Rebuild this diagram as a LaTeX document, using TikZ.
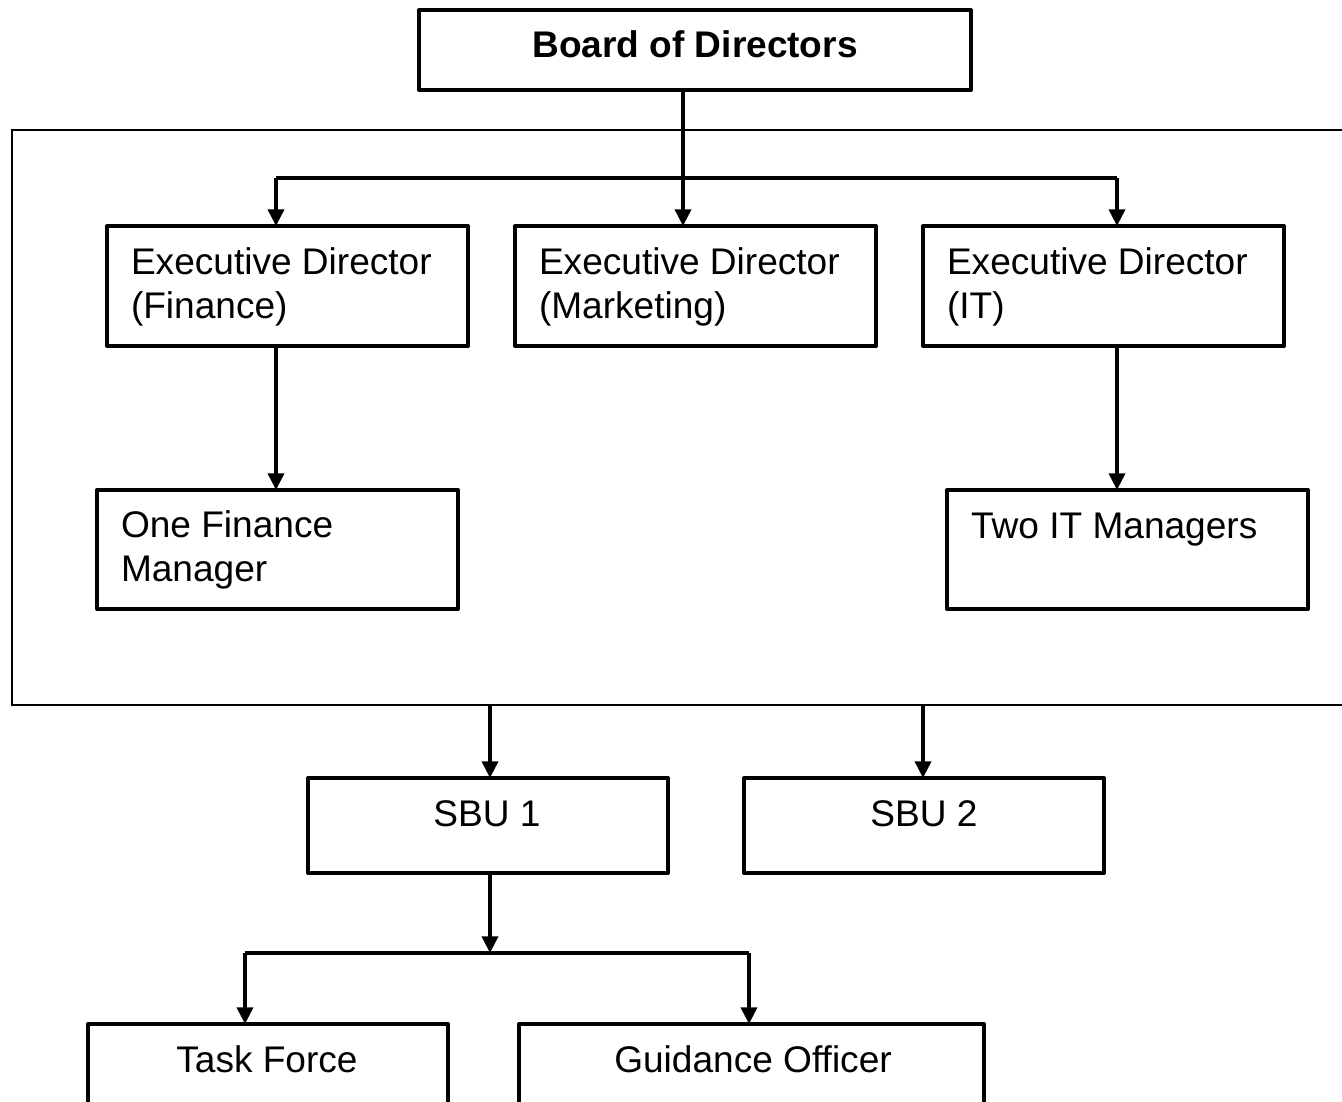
\documentclass[tikz,border=0pt]{standalone}
\usepackage{fontspec}
\setmainfont{Liberation Sans}
\usetikzlibrary{fit,arrows.meta}
\begin{document}
\begin{tikzpicture}[x=0.75pt,y=-0.75pt,
  box/.style={draw=black,line width=3pt,inner sep=0pt,outer sep=0pt,line join=round},
  frame/.style={draw=black,line width=1.7pt,inner sep=0pt,outer sep=0pt},
  txt/.style={inner sep=0pt,outer sep=0pt,font=\fontsize{27.8pt}{32.3pt}\selectfont,align=left},
  conn/.style={line width=2.7pt,draw=black},
  arr/.style={conn,-{Triangle[width=12pt,length=12.5pt]}}]
\useasboundingbox (0,0) rectangle (1342,1102);
\fill[white] (0,0) rectangle (1342,1102);
% container
\node[frame,fit={(12,130) (1380,705)}] (exec) {};
% boxes
\node[box,fit={(419,10) (971,90)}] (board) {};
\node[box,fit={(107,226) (468,346)}] (edf) {};
\node[box,fit={(515,226) (876,346)}] (edm) {};
\node[box,fit={(923,226) (1284,346)}] (edit) {};
\node[box,fit={(97,490) (458,609)}] (ofm) {};
\node[box,fit={(947,490) (1308,609)}] (tit) {};
\node[box,fit={(308,778) (668,873)}] (sbuA) {};
\node[box,fit={(744,778) (1104,873)}] (sbuB) {};
\node[box,fit={(88,1024) (448,1160)}] (tf) {};
\node[box,fit={(519,1024) (984,1160)}] (go) {};
% texts (multi-line nodes: base anchor is on the last line)
\node[txt,anchor=base] (tboard) at (695,58) {\bfseries Board of Directors};
\node[txt,anchor=base west] (tedf) at (131,318) {Executive Director\\(Finance)};
\node[txt,anchor=base west] (tedm) at (539,318) {Executive Director\\(Marketing)};
\node[txt,anchor=base west] (tedit) at (947,318) {Executive Director\\(IT)};
\node[txt,anchor=base west] (tofm) at (121,581) {One Finance\\Manager};
\node[txt,anchor=base west] (ttit) at (971,538) {Two IT Managers};
\node[txt,anchor=base] (tsbuA) at (487,826) {SBU 1};
\node[txt,anchor=base] (tsbuB) at (924,826) {SBU 2};
\node[txt,anchor=base] (ttf) at (267,1072) {Task Force};
\node[txt,anchor=base] (tgo) at (753,1072) {Guidance Officer};
% connector coordinates
\coordinate (hL) at (276,178);
\coordinate (hM) at (683,178);
\coordinate (hR) at (1117,178);
\coordinate (sA) at (490,705);
\coordinate (sB) at (923,705);
\coordinate (jM) at (490,953);
\coordinate (jL) at (245,953);
\coordinate (jR) at (749,953);
% connectors
\draw[conn] (hL) -- (hR);
\draw[arr] (board.south -| hM) -- (edm.north -| hM);
\draw[arr] (hL) -- (edf.north -| hL);
\draw[arr] (hR) -- (edit.north -| hR);
\draw[arr] (edf.south -| hL) -- (ofm.north -| hL);
\draw[arr] (edit.south -| hR) -- (tit.north -| hR);
\draw[arr] (exec.south -| sA) -- (sbuA.north -| sA);
\draw[arr] (exec.south -| sB) -- (sbuB.north -| sB);
\draw[arr] (sbuA.south -| jM) -- (jM);
\draw[conn] (jL) -- (jR);
\draw[arr] (jL) -- (tf.north -| jL);
\draw[arr] (jR) -- (go.north -| jR);
\end{tikzpicture}
\end{document}
